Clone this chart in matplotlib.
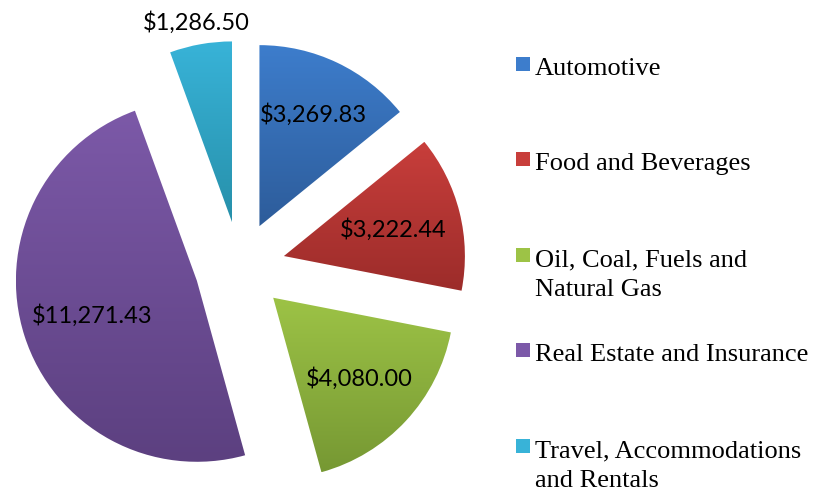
import matplotlib.pyplot as plt
import numpy as np
from matplotlib.colors import LinearSegmentedColormap
from matplotlib.patches import Rectangle

# Data
categories = ['Automotive', 'Food and Beverages', 'Oil, Coal, Fuels and\nNatural Gas',
              'Real Estate and Insurance', 'Travel, Accommodations\nand Rentals']
values = [3269.83, 3222.44, 4080.00, 11271.43, 1286.50]
value_labels = ['$3,269.83', '$3,222.44', '$4,080.00', '$11,271.43', '$1,286.50']

# Gradient colours (top, bottom) per slice
top_colors = ['#3d7dcc', '#c83e3b', '#9dc346', '#7c59a8', '#38b3d8']
bot_colors = ['#2d5c9a', '#9c2c2a', '#769833', '#5c4080', '#2790aa']

W, H = 814, 489
fig = plt.figure(figsize=(W / 100, H / 100), dpi=100)
ax = fig.add_axes([0, 0, 1, 1])

# pie centre / radius in pixels
cx, cy, r = 240, 268, 181

wedges, texts = ax.pie(values, startangle=90, counterclock=False,
                       explode=[0.25] * 5, radius=1, center=(0, 0),
                       labels=value_labels, labeldistance=None,
                       wedgeprops=dict(linewidth=0))

ax.set_aspect('auto')
ax.axis('off')

# gradient fill clipped to each wedge
grad = np.linspace(0, 1, 256).reshape(-1, 1)
for w, c1, c2 in zip(wedges, top_colors, bot_colors):
    w.set_facecolor('none')
    ext = w.get_path().get_extents()
    cmap = LinearSegmentedColormap.from_list('g', [c1, c2])
    im = ax.imshow(grad, cmap=cmap, aspect='auto', origin='upper',
                   extent=[ext.x0, ext.x1, ext.y0, ext.y1], zorder=1)
    im.set_clip_path(w)

ax.set_xlim(-cx / r, (W - cx) / r)
ax.set_ylim(-(H - cy) / r, cy / r)

# value labels
frac = np.cumsum([0] + values) / sum(values)
label_dist = [0.69, 0.62, 0.65, 0.61, 1.13]
for i, w in enumerate(wedges):
    mid = np.deg2rad(90 - 360 * (frac[i] + frac[i + 1]) / 2)
    ox, oy = w.center
    d = label_dist[i]
    ax.text(ox + d * np.cos(mid), oy + d * np.sin(mid), value_labels[i],
            ha='center', va='center', fontsize=17, family='Lato', zorder=3)

# legend (Excel style, serif)
leg_base = [75, 170, 266, 361, 457]
for i, name in enumerate(categories):
    y = leg_base[i]
    fig.patches.append(Rectangle((516 / W, 1 - (y - 3) / H), 14 / W, 14 / H,
                                 transform=fig.transFigure,
                                 facecolor=top_colors[i], edgecolor='none'))
    for k, line in enumerate(name.split('\n')):
        fig.text(535 / W, 1 - (y + 30 * k) / H, line, ha='left', va='baseline',
                 fontsize=19, family='Liberation Serif')

fig.savefig('out.png', dpi=100)
